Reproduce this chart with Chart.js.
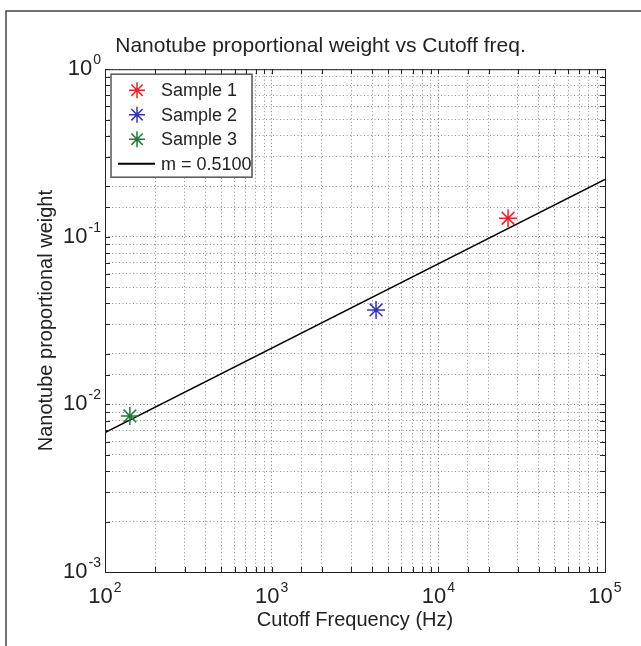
<!DOCTYPE html>
<html>
<head>
<meta charset="utf-8">
<script src="https://cdn.jsdelivr.net/npm/chart.js@4/dist/chart.umd.min.js"></script>
<style>
  html, body { margin: 0; padding: 0; background: #fff; }
  #wrap { width: 641px; height: 646px; position: relative; }
</style>
</head>
<body>
<div id="wrap"><canvas id="chart" width="641" height="646"></canvas></div>
<script>
// Data
const sampleLabels = ['Sample 1', 'Sample 2', 'Sample 3'];
const sampleColors = ['#e3262b', '#3438a8', '#1f7a3c'];
const sampleFreq = [26200, 4230, 141];        // Hz
const sampleWeight = [0.129, 0.0366, 0.00853];
const fitLabel = 'm = 0.5100';
const fitFreq = [100, 100000];
const fitWeight = [0.0068, 0.22];
const xTickExps = [2, 3, 4, 5];
const yTickExps = [-3, -2, -1, 0];

const FONT = '"Liberation Sans", Arial, Helvetica, sans-serif';
const TEXT = '#222';

/**
 * Draw a MATLAB style asterisk marker (+ and x)
 */
function drawStar(ctx, cx, cy, r, color) {
    const d = r * Math.SQRT1_2;
    ctx.save();
    ctx.strokeStyle = color;
    ctx.lineWidth = 1.5;
    ctx.beginPath();
    ctx.moveTo(cx - r, cy); ctx.lineTo(cx + r, cy);
    ctx.moveTo(cx, cy - r); ctx.lineTo(cx, cy + r);
    ctx.moveTo(cx - d, cy - d); ctx.lineTo(cx + d, cy + d);
    ctx.moveTo(cx - d, cy + d); ctx.lineTo(cx + d, cy - d);
    ctx.stroke();
    ctx.restore();
}

/**
 * Draw "10" with a raised exponent
 */
function drawPow(ctx, exp, x, y, align) {
    const base = '10';
    const sup = String(exp);
    ctx.font = '22px ' + FONT;
    const wb = ctx.measureText(base).width;
    ctx.font = '14px ' + FONT;
    const ws = ctx.measureText(sup).width;
    const total = wb + ws + 1;
    let start = x - total / 2;
    if (align === 'right') start = x - total;
    ctx.fillStyle = TEXT;
    ctx.textAlign = 'left';
    ctx.textBaseline = 'middle';
    ctx.font = '22px ' + FONT;
    ctx.fillText(base, start, y);
    ctx.font = '14px ' + FONT;
    ctx.fillText(sup, start + wb + 1, y - 9);
}

const framePlugin = {
    id: 'frame',
    beforeDraw(chart) {
        const ctx = chart.ctx;
        // Figure border (left and top edges visible)
        ctx.save();
        ctx.strokeStyle = '#444';
        ctx.lineWidth = 1.5;
        ctx.beginPath();
        ctx.moveTo(6, chart.height + 2);
        ctx.lineTo(6, 11);
        ctx.lineTo(chart.width + 2, 11);
        ctx.stroke();
        ctx.restore();
    },
    afterDraw(chart) {
        const { ctx, chartArea: a, scales: { x, y } } = chart;
        ctx.save();

        // Axes box
        ctx.strokeStyle = '#222';
        ctx.lineWidth = 1;
        ctx.strokeRect(a.left + 0.5, a.top + 0.5, a.right - a.left, a.bottom - a.top);

        // Inward ticks on all four sides
        ctx.beginPath();
        x.ticks.forEach(t => {
            const px = Math.round(x.getPixelForValue(t.value)) + 0.5;
            ctx.moveTo(px, a.bottom); ctx.lineTo(px, a.bottom - 5);
            ctx.moveTo(px, a.top); ctx.lineTo(px, a.top + 5);
        });
        y.ticks.forEach(t => {
            const py = Math.round(y.getPixelForValue(t.value)) + 0.5;
            ctx.moveTo(a.left, py); ctx.lineTo(a.left + 5, py);
            ctx.moveTo(a.right, py); ctx.lineTo(a.right - 5, py);
        });
        ctx.stroke();

        // Tick labels with superscript exponents
        xTickExps.forEach(e => {
            drawPow(ctx, e, x.getPixelForValue(Math.pow(10, e)), a.bottom + 25, 'center');
        });
        yTickExps.forEach(e => {
            drawPow(ctx, e, a.left - 4, y.getPixelForValue(Math.pow(10, e)), 'right');
        });

        // Legend inside the axes, top-left
        const lx = a.left + 6, ly = a.top + 5, lw = 141, lh = 103;
        ctx.fillStyle = '#fff';
        ctx.fillRect(lx, ly, lw, lh);
        ctx.strokeStyle = '#555';
        ctx.lineWidth = 1.5;
        ctx.strokeRect(lx, ly, lw, lh);
        ctx.font = '18px ' + FONT;
        ctx.textAlign = 'left';
        ctx.textBaseline = 'middle';
        chart.data.datasets.forEach((ds, i) => {
            const rowY = ly + 16 + i * 24.5;
            if (ds.showLine) {
                ctx.strokeStyle = ds.borderColor;
                ctx.lineWidth = 2;
                ctx.beginPath();
                ctx.moveTo(lx + 7, rowY); ctx.lineTo(lx + 44, rowY);
                ctx.stroke();
            } else {
                drawStar(ctx, lx + 26, rowY, 8, ds.borderColor);
            }
            ctx.fillStyle = TEXT;
            ctx.fillText(ds.label, lx + 50, rowY + 1);
        });
        ctx.restore();
    }
};

const datasets = sampleLabels.map((label, i) => ({
    label: label,
    data: [{ x: sampleFreq[i], y: sampleWeight[i] }],
    borderColor: sampleColors[i],
    backgroundColor: sampleColors[i],
    pointStyle: 'star',
    pointRadius: 9,
    pointBorderWidth: 1.5,
    showLine: false
}));
datasets.push({
    label: fitLabel,
    data: fitFreq.map((f, i) => ({ x: f, y: fitWeight[i] })),
    borderColor: '#000',
    borderWidth: 1.5,
    pointRadius: 0,
    showLine: true,
    order: 10
});

const gridColor = ctx => ctx.tick && ctx.tick.major ? '#6e6e6e' : '#8c8c8c';

new Chart(document.getElementById('chart'), {
    type: 'scatter',
    data: { datasets: datasets },
    options: {
        responsive: false,
        animation: false,
        devicePixelRatio: 1,
        layout: { padding: 0 },
        plugins: {
            legend: { display: false },
            tooltip: { enabled: false },
            title: {
                display: true,
                text: 'Nanotube proportional weight vs Cutoff freq.',
                color: TEXT,
                font: { family: FONT, size: 21, weight: 'normal' },
                padding: { top: 34, bottom: 10 }
            }
        },
        scales: {
            x: {
                type: 'logarithmic',
                min: 100,
                max: 100000,
                afterFit: scale => { scale.height = 74; },
                ticks: { display: false },
                grid: { color: gridColor, lineWidth: 1, drawTicks: false },
                border: { display: false, dash: [1, 2.5] },
                title: {
                    display: true,
                    text: 'Cutoff Frequency (Hz)',
                    color: TEXT,
                    font: { family: FONT, size: 20 },
                    padding: { top: 0, bottom: 14 }
                }
            },
            y: {
                type: 'logarithmic',
                min: 0.001,
                max: 1,
                afterFit: scale => { scale.width = 105; },
                ticks: { display: false },
                grid: { color: gridColor, lineWidth: 1, drawTicks: false },
                border: { display: false, dash: [1, 2.5] },
                title: {
                    display: true,
                    text: 'Nanotube proportional weight',
                    color: TEXT,
                    font: { family: FONT, size: 20 },
                    padding: { top: 34, bottom: 0 }
                }
            },
            // empty right margin so the title centres on the whole figure
            yRight: {
                position: 'right',
                display: true,
                afterFit: scale => { scale.width = 36; },
                ticks: { display: false },
                grid: { display: false },
                border: { display: false }
            }
        }
    },
    plugins: [framePlugin]
});
</script>
</body>
</html>
